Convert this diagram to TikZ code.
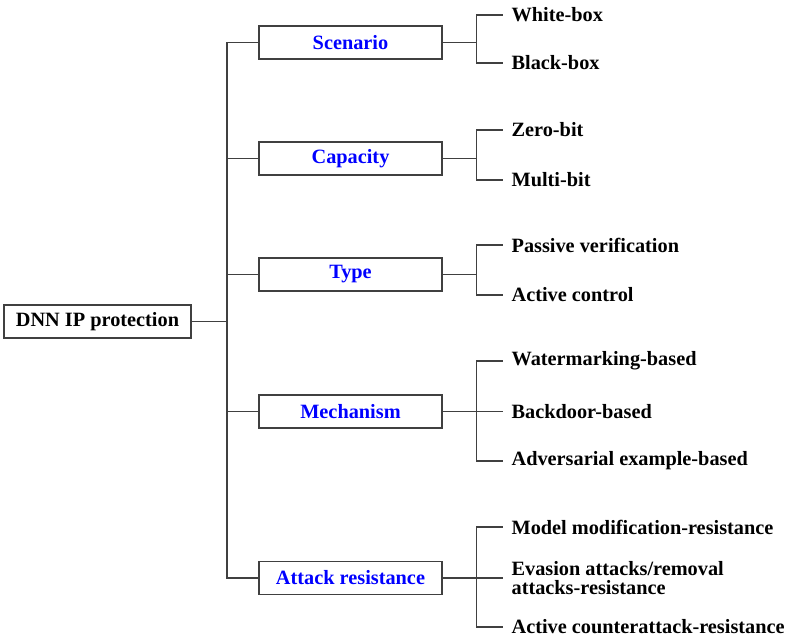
\documentclass[tikz,border=0pt]{standalone}
\usepackage{fontspec}
\setmainfont{Liberation Serif}
\usetikzlibrary{positioning}

\begin{document}
\begin{tikzpicture}[x=1pt,y=-1pt,thick,line width=1.2pt]
\tikzstyle{every node}=[font=\fontsize{20.3}{18.5}\selectfont\bfseries]
\tikzstyle{box}=[shape=rectangle,draw=black!75,line width=1.1pt,minimum width=183pt,minimum height=33pt,inner sep=0pt]
\tikzstyle{cat}=[box,text=blue]
\tikzstyle{leaf}=[anchor=west,inner xsep=8pt,inner ysep=0pt,align=left]
\tikzstyle{link}=[draw=black!75,line width=1.2pt]
\useasboundingbox (0,0) rectangle (788,638);

\node[box,minimum width=187pt] (R) at (97.5,321.5) {DNN IP protection};
\node[cat]  (S) at (350.5,42.5)  {Scenario};
\node[cat]  (C) at (350.5,158.5) {Capacity};
\node[cat]  (T) at (350.5,274.5) {Type};
\node[cat]  (M) at (350.5,411.5) {Mechanism};
\node[cat]  (A) at (350.5,578)   {Attack resistance};

\node[leaf] (S1) at (503,15)    {White-box};
\node[leaf] (S2) at (503,63)    {Black-box};
\node[leaf] (C1) at (503,130)   {Zero-bit};
\node[leaf] (C2) at (503,180)   {Multi-bit};
\node[leaf] (T1) at (503,245)   {Passive verification};
\node[leaf] (T2) at (503,295)   {Active control};
\node[leaf] (M1) at (503,361)   {Watermarking-based};
\node[leaf] (M2) at (503,411.5) {Backdoor-based};
\node[leaf] (M3) at (503,461)   {Adversarial example-based};
\node[leaf] (A1) at (503,527)   {Model modification-resistance};
\node[leaf] (A2) at (503,578)   {Evasion attacks/removal\\attacks-resistance};
\node[leaf] (A3) at (503,627)   {Active counterattack-resistance};

% trunk
\coordinate (trunk) at (227,321.5);
\path[link]
(R.east) -- (trunk)
(S.west) -| (trunk)
(C.west) -| (trunk)
(T.west) -| (trunk)
(M.west) -| (trunk)
(A.west) -| (trunk)
;

% branches
\path[link] (S.east) -- ++(34,0) coordinate (Sj) (Sj) |- (S1.west) (Sj) |- (S2.west);
\path[link] (C.east) -- ++(34,0) coordinate (Cj) (Cj) |- (C1.west) (Cj) |- (C2.west);
\path[link] (T.east) -- ++(34,0) coordinate (Tj) (Tj) |- (T1.west) (Tj) |- (T2.west);
\path[link] (M.east) -- ++(34,0) coordinate (Mj) (Mj) |- (M1.west) (Mj) -- (M2.west) (Mj) |- (M3.west);
\path[link] (A.east) -- ++(34,0) coordinate (Aj) (Aj) |- (A1.west) (Aj) -- (A2.west) (Aj) |- (A3.west);
\end{tikzpicture}
\end{document}
